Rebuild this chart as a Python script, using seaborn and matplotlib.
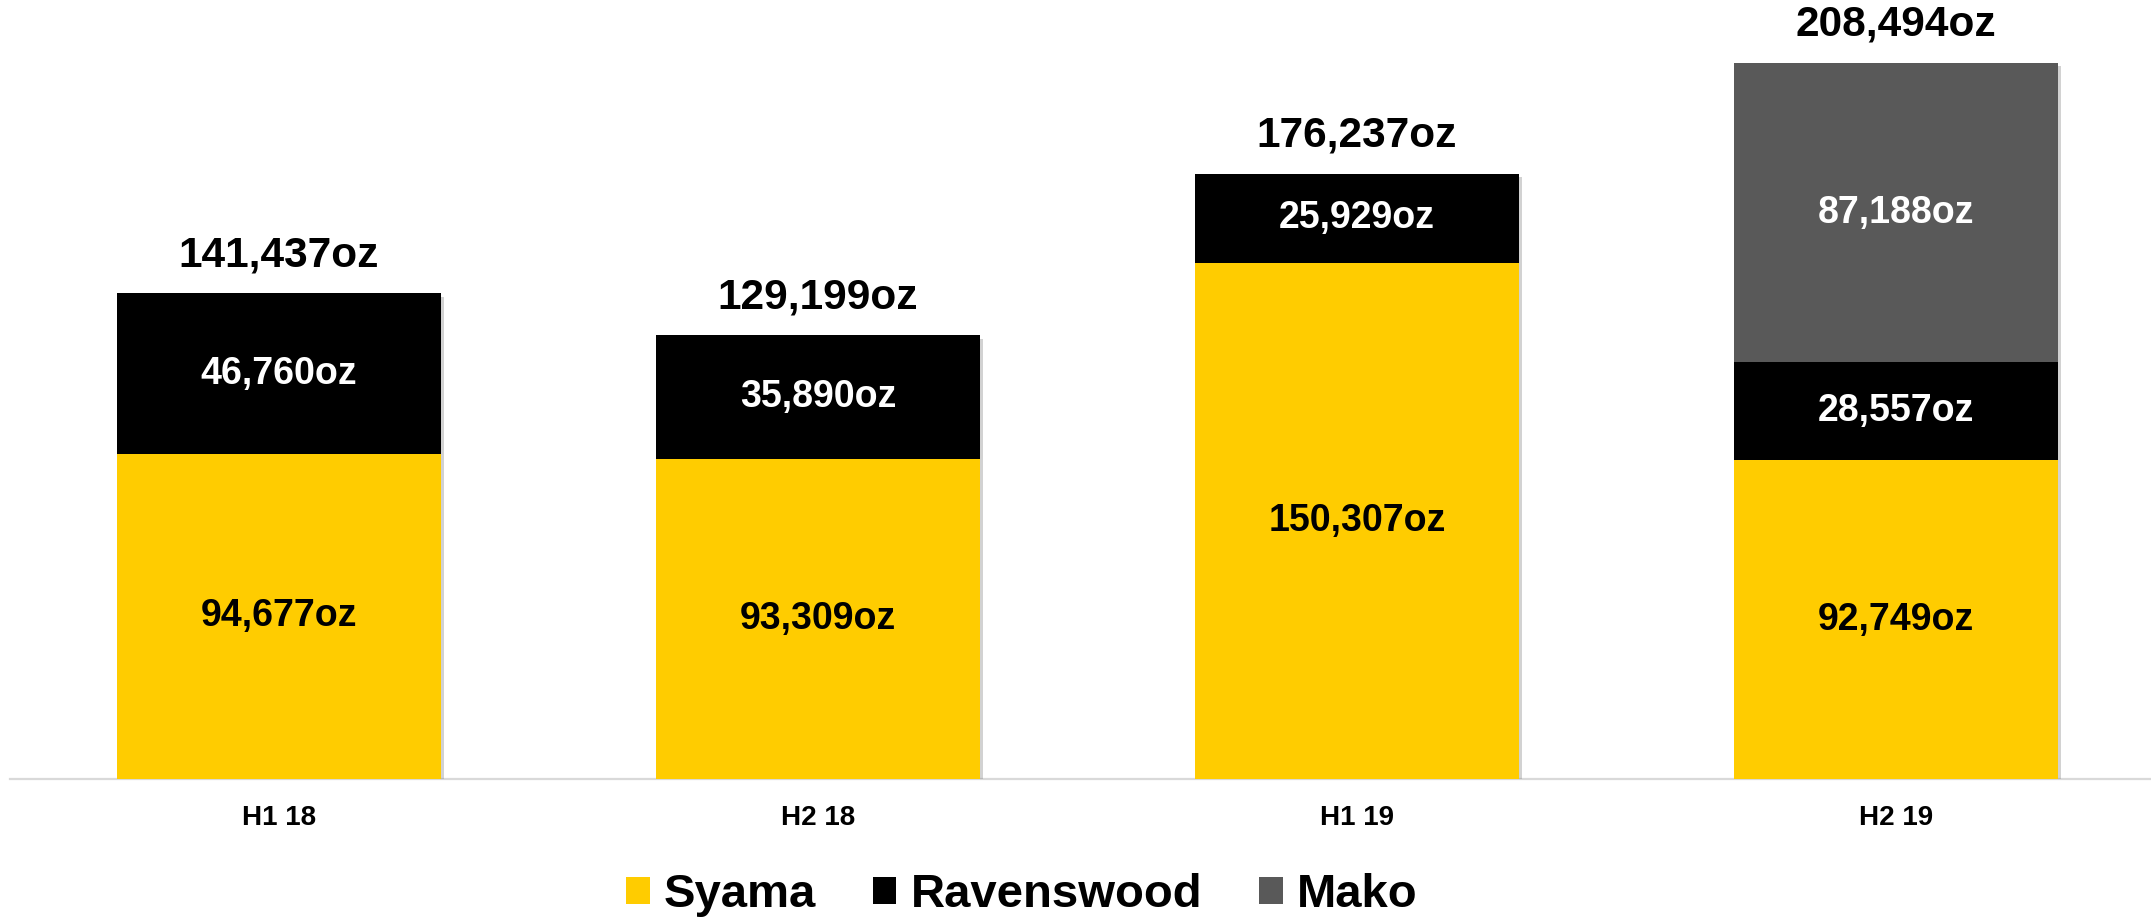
import matplotlib
matplotlib.use("Agg")
import matplotlib.pyplot as plt
import matplotlib.patheffects as pe
from matplotlib.patches import Patch
import seaborn as sns
import numpy as np
import pandas as pd

categories = ["H1 18", "H2 18", "H1 19", "H2 19"]
syama = [94677, 93309, 150307, 92749]
ravenswood = [46760, 35890, 25929, 28557]
mako = [0, 0, 0, 87188]
totals = [141437, 129199, 176237, 208494]

series_names = ["Syama", "Ravenswood", "Mako"]
series_colors = ["#FFCC00", "#000000", "#595959"]
label_colors = ["#000000", "#FFFFFF", "#FFFFFF"]

sns.set_theme(style="white")
plt.rcParams["font.family"] = ["Liberation Sans", "DejaVu Sans"]
plt.rcParams["font.weight"] = "bold"
plt.rcParams["text.color"] = "#000000"
plt.rcParams["legend.labelcolor"] = "#000000"

fig = plt.figure(figsize=(21.51, 9.21), dpi=100)
ax = fig.add_axes([10 / 2151, (921 - 779) / 921, 1 - 10 / 2151, 779 / 921])

s = np.array(syama, dtype=float)
r = np.array(ravenswood, dtype=float)
m = np.array(mako, dtype=float)
layers = [s, s + r, s + r + m]

df = pd.DataFrame({"cat": categories, "l1": layers[0], "l2": layers[1], "l3": layers[2]})

# draw from the tallest cumulative layer down
for i, col in [(2, "l3"), (1, "l2"), (0, "l1")]:
    n_before = len(ax.patches)
    sns.barplot(data=df, x="cat", y=col, color=series_colors[i], saturation=1,
                width=0.6, linewidth=0, ax=ax, order=categories)
    if i == 2:
        for p in ax.patches[n_before:]:
            p.set_path_effects([pe.SimplePatchShadow(offset=(2.5, -2.5), shadow_rgbFace="#7f7f7f", alpha=0.35),
                                pe.Normal()])

ax.set_xlim(-0.499, 3.473)
ax.set_ylim(0, 226800)
ax.set_xlabel("")
ax.set_ylabel("")
ax.set_yticks([])
for side in ["top", "left", "right"]:
    ax.spines[side].set_visible(False)
ax.spines["bottom"].set_color("#D9D9D9")
ax.spines["bottom"].set_linewidth(1.6)
ax.spines["bottom"].set_zorder(0.5)
ax.tick_params(axis="x", length=0, pad=19, labelsize=20, labelcolor="#000000")
for t in ax.get_xticklabels():
    t.set_fontweight("bold")
    t.set_color("#000000")

# segment labels
vals = [s, r, m]
bottoms = [np.zeros(4), s, s + r]
for i in range(3):
    for j in range(4):
        v = vals[i][j]
        if v <= 0:
            continue
        ax.text(j, bottoms[i][j] + v / 2, f"{int(v):,}oz", ha="center", va="center",
                fontsize=27, fontweight="bold", color=label_colors[i])

# totals
for j in range(4):
    ax.annotate(f"{totals[j]:,}oz", xy=(j, layers[2][j]), xytext=(0, 38),
                textcoords="offset pixels", ha="center", va="center",
                fontsize=30.5, fontweight="bold", color="#000000", annotation_clip=False)

handles = [Patch(facecolor=c, edgecolor="none", label=n) for c, n in zip(series_colors, series_names)]
leg = fig.legend(handles=handles, loc="center", bbox_to_anchor=(0.475, 0.028), ncol=3, frameon=False,
                 prop={"size": 34, "weight": "bold"}, handlelength=0.5, handleheight=0.5,
                 handletextpad=0.3, columnspacing=1.2)
for t in leg.get_texts():
    t.set_color("#000000")

fig.savefig("out.png", dpi=100, facecolor="white")
